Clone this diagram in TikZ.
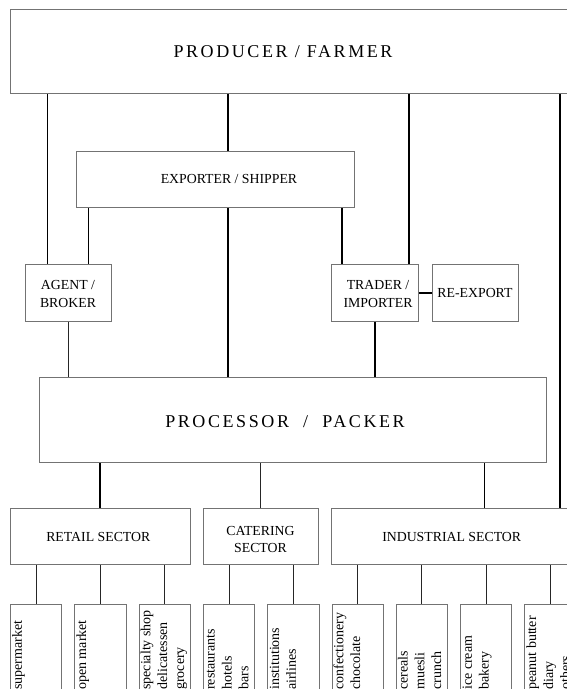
\documentclass[tikz,border=0pt]{standalone}
\usepackage{fontspec}
\setmainfont{Liberation Serif}
\newfontfamily\spacedfont[LetterSpace=14.4]{Liberation Serif}
\usetikzlibrary{calc}
\begin{document}
\begin{tikzpicture}[x=1pt,y=-1pt,
  box/.style={draw=black!55, line width=0.9pt, inner sep=0pt, anchor=north west},
  lab/.style={font=\fontsize{13.8}{17.7}\selectfont, align=center, inner sep=0pt},
  big/.style={font=\spacedfont\fontsize{18}{22}\selectfont, inner sep=0pt, anchor=base},
  rot/.style={font=\fontsize{14}{16.8}\selectfont, rotate=90, anchor=base west, inner sep=0pt},
  thickc/.style={line width=1.7pt, black},
  midc/.style={line width=1.3pt, black},
  thinc/.style={line width=1pt, black!85},
]
\useasboundingbox (0,0) rectangle (567,689);
\clip (0,0) rectangle (567,689);

% main boxes
\node[box, minimum width=580pt, minimum height=84pt] (top) at (10,9.3) {};
\node[box, minimum width=277.7pt, minimum height=56.6pt] (exp) at (76,150.7) {};
\node[box, minimum width=86.8pt, minimum height=56.7pt] (agent) at (24.6,264) {};
\node[box, minimum width=87.1pt, minimum height=56.7pt] (trader) at (331.3,264) {};
\node[box, minimum width=86.8pt, minimum height=56.7pt] (reexp) at (431.5,264) {};
\node[box, minimum width=507.4pt, minimum height=85pt] (proc) at (38.7,377.3) {};
\node[box, minimum width=179.7pt, minimum height=56.8pt] (retail) at (10,507.5) {};
\node[box, minimum width=115.6pt, minimum height=56.8pt] (cater) at (202.7,507.5) {};
\node[box, minimum width=241pt, minimum height=56.8pt] (indus) at (331,507.5) {};

% labels
\node[big] (toptxt) at (283,57.3) {PRODUCER / FARMER};
\node[big] (proctxt) at (285,427.3) {PROCESSOR\ \ /\ \ PACKER};
\node[lab] (exptxt) at (229,179) {EXPORTER / SHIPPER};
\node[lab] (agenttxt) at (68,293.9) {AGENT /\\BROKER};
\node[lab] (tradertxt) at (378,293.9) {TRADER /\\IMPORTER};
\node[lab] (reexptxt) at (475,293.3) {RE-EXPORT};
\node[lab] (retailtxt) at (98.3,537) {RETAIL SECTOR};
\node[lab] (catertxt) at (260.5,539.5) {CATERING\\SECTOR};
\node[lab] (industxt) at (451.7,537) {INDUSTRIAL SECTOR};

% child boxes
\foreach \i in {0,...,8} {
  \node[box, minimum width=51.3pt, minimum height=120pt] (c\i) at ({10+64.3*\i},604.3) {};
}
% child texts
\node[rot] (t0a) at ({10+0*64.3+11.8},690) {supermarket};
\node[rot] (t1a) at ({10+1*64.3+11.8},690) {open market};
\node[rot] (t2a) at ({10+2*64.3+11.8},690) {specialty shop};
\node[rot] (t2b) at ({10+2*64.3+28.6},690) {delicatessen};
\node[rot] (t2c) at ({10+2*64.3+45.4},690) {grocery};
\node[rot] (t3a) at ({10+3*64.3+11.8},690) {restaurants};
\node[rot] (t3b) at ({10+3*64.3+28.6},690) {hotels};
\node[rot] (t3c) at ({10+3*64.3+45.4},690) {bars};
\node[rot] (t4a) at ({10+4*64.3+11.8},690) {institutions};
\node[rot] (t4b) at ({10+4*64.3+28.6},690) {airlines};
\node[rot] (t5a) at ({10+5*64.3+11.8},690) {confectionery};
\node[rot] (t5b) at ({10+5*64.3+28.6},690) {chocolate};
\node[rot] (t6a) at ({10+6*64.3+11.8},690) {cereals};
\node[rot] (t6b) at ({10+6*64.3+28.6},690) {muesli};
\node[rot] (t6c) at ({10+6*64.3+45.4},690) {crunch};
\node[rot] (t7a) at ({10+7*64.3+11.8},690) {ice cream};
\node[rot] (t7b) at ({10+7*64.3+28.6},690) {bakery};
\node[rot] (t8a) at ({10+8*64.3+11.8},690) {peanut butter};
\node[rot] (t8b) at ({10+8*64.3+28.6},690) {diary};
\node[rot] (t8c) at ({10+8*64.3+45.4},690) {others};

% x positions of connectors
\coordinate (xa) at (47.7,0);
\coordinate (xb) at (227.8,0);
\coordinate (xc) at (88.6,0);
\coordinate (xd) at (341.8,0);
\coordinate (xe) at (408.7,0);
\coordinate (xf) at (560,0);
\coordinate (xg) at (484.6,0);

% connectors
\draw[midc] (top.south -| xa) -- (agent.north -| xa);
\draw[thickc] (top.south -| xb) -- (exp.north -| xb);
\draw[thickc] (exp.south -| xb) -- (proc.north -| xb);
\draw[midc] (exp.south -| xc) -- (agent.north -| xc);
\draw[thickc] (exp.south -| xd) -- (trader.north -| xd);
\draw[thickc] (top.south -| xe) -- (trader.north -| xe);
\draw[thickc] (top.south -| xf) -- (indus.north -| xf);
\draw[thickc] (trader.east) -- (reexp.west);
\draw[thinc] (agent.south) -- (proc.north -| agent.south);
\draw[thickc] (trader.south) -- (proc.north -| trader.south);
\draw[thickc] (proc.south -| retail.north) -- (retail.north);
\draw[thinc] (proc.south -| cater.north) -- (cater.north);
\draw[thickc] (proc.south -| xg) -- (indus.north -| xg);

\foreach \i in {0,1,2} { \draw[thinc] (retail.south -| c\i.north) -- (c\i.north); }
\foreach \i in {3,4} { \draw[thinc] (cater.south -| c\i.north) -- (c\i.north); }
\foreach \i in {5,6,7,8} { \draw[thinc] (indus.south -| c\i.north) -- (c\i.north); }
\end{tikzpicture}
\end{document}
